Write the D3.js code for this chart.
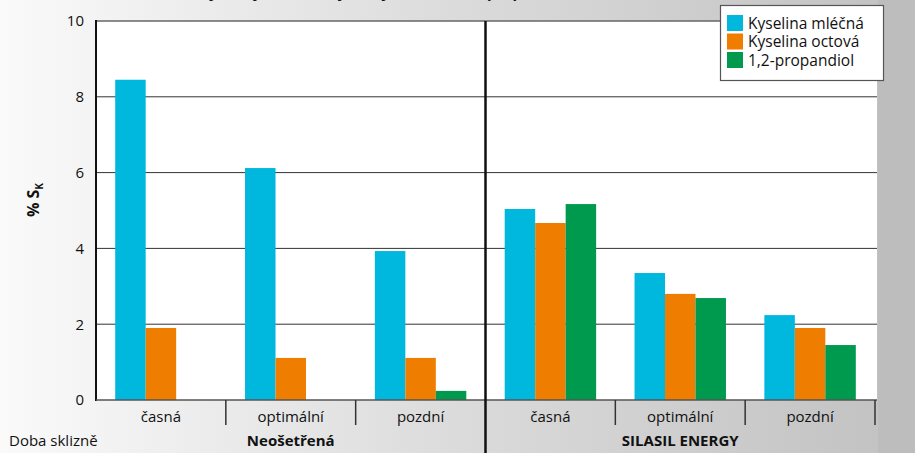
<!DOCTYPE html>
<html>
<head>
<meta charset="utf-8">
<script src="https://cdn.jsdelivr.net/npm/d3@7"></script>
<style>
  html, body { margin: 0; padding: 0; background: #ffffff; }
  svg { display: block; font-family: "Open Sans", "Noto Sans", sans-serif; }
</style>
</head>
<body>
<svg id="chart" width="915" height="453"></svg>
<script>
// ---- data ----
const treatments = ["Neošetřená", "SILASIL ENERGY"];
const harvestTimes = ["časná", "optimální", "pozdní"];
const seriesNames = ["Kyselina mléčná", "Kyselina octová", "1,2-propandiol"];
const lacticAcid = [8.45, 6.12, 3.93, 5.04, 3.35, 2.24];
const aceticAcid = [1.90, 1.11, 1.11, 4.67, 2.80, 1.90];
const propanediol = [0, 0, 0.24, 5.17, 2.69, 1.45];
const yTicks = [0, 2, 4, 6, 8, 10];
const colors = ["#00b7de", "#ef7d00", "#009a4e"];

// ---- layout ----
const W = 915, H = 453;
const plotLeft = 96, plotRight = 877, plotTop = 21, plotBottom = 400;
const axisRight = 875;

const svg = d3.select("#chart");

// background gradient
const defs = svg.append("defs");
const grad = defs.append("linearGradient").attr("id", "bg").attr("x1", "0").attr("x2", "1").attr("y1", "0").attr("y2", "0");
[[0, "#fafafa"], [0.5, "#dbdbdb"], [0.959, "#c3c3c3"], [0.96, "#bdbdbd"], [1, "#bdbdbd"]]
  .forEach(([o, c]) => grad.append("stop").attr("offset", o).attr("stop-color", c));
svg.append("rect").attr("width", W).attr("height", H).attr("fill", "url(#bg)");

// title, cut off at the top edge as in the source picture
svg.append("text").attr("x", 148).attr("y", -2)
  .attr("font-size", 15).attr("font-weight", "bold").attr("fill", "#111")
  .text("Obsah kyseliny mléčné, kyseliny octové a 1,2-propandiolu");

// plot area
svg.append("rect").attr("x", plotLeft).attr("y", plotTop)
  .attr("width", plotRight - plotLeft).attr("height", plotBottom - plotTop).attr("fill", "#ffffff");

// scales
const keys = [];
treatments.forEach(t => harvestTimes.forEach(h => keys.push(t + "|" + h)));
const x0 = d3.scaleBand().domain(keys).range([plotLeft, axisRight]).padding(0);
const x1 = d3.scaleBand().domain(seriesNames).range([0, x0.bandwidth()]).paddingInner(0).paddingOuter(0.63);
const y = d3.scaleLinear().domain([0, 10]).range([plotBottom, plotTop]);

// gridlines
svg.append("g").selectAll("line").data(yTicks.filter(v => v > 0 && v < 10)).join("line")
  .attr("x1", plotLeft).attr("x2", plotRight)
  .attr("y1", d => y(d)).attr("y2", d => y(d))
  .attr("stroke", "#333").attr("stroke-width", 1);
svg.append("line").attr("x1", plotLeft).attr("x2", plotRight)
  .attr("y1", y(10)).attr("y2", y(10)).attr("stroke", "#666").attr("stroke-width", 1.5);

// bars
const valuesBySeries = [lacticAcid, aceticAcid, propanediol];
const barData = [];
keys.forEach((k, i) => seriesNames.forEach((s, j) => barData.push({ k, s, v: valuesBySeries[j][i], c: colors[j] })));
svg.append("g").selectAll("rect").data(barData.filter(d => d.v > 0)).join("rect")
  .attr("x", d => x0(d.k) + x1(d.s))
  .attr("width", x1.bandwidth())
  .attr("y", d => y(d.v))
  .attr("height", d => y(0) - y(d.v))
  .attr("fill", d => d.c);

// y axis
const yAxis = d3.axisLeft(y).tickValues(yTicks).tickSize(0).tickPadding(12).tickFormat(d3.format("d"));
const gy = svg.append("g").attr("transform", `translate(${plotLeft},0)`).call(yAxis);
gy.select(".domain").remove();
gy.selectAll("text").attr("font-size", 15).attr("fill", "#111").attr("font-family", "\"Open Sans\", sans-serif");
svg.append("line").attr("x1", plotLeft).attr("x2", plotLeft).attr("y1", plotTop - 1).attr("y2", plotBottom + 1)
  .attr("stroke", "#111").attr("stroke-width", 2);

// x axis baseline
svg.append("line").attr("x1", plotLeft).attr("x2", plotRight).attr("y1", plotBottom).attr("y2", plotBottom)
  .attr("stroke", "#555").attr("stroke-width", 1.5);

// category separators (ticks)
const bounds = keys.map(k => x0(k) + x0.bandwidth()).filter((v, i) => (i + 1) % harvestTimes.length !== 0);
bounds.push(axisRight);
svg.append("g").selectAll("line").data(bounds).join("line")
  .attr("x1", d => d).attr("x2", d => d).attr("y1", plotBottom).attr("y2", 425)
  .attr("stroke", "#333").attr("stroke-width", 1.5);

// category labels
svg.append("g").selectAll("text").data(keys).join("text")
  .attr("x", d => x0(d) + x0.bandwidth() / 2).attr("y", 422)
  .attr("text-anchor", "middle").attr("font-size", 15).attr("fill", "#111")
  .text(d => d.split("|")[1]);

// treatment separator
const sepX = x0(treatments[1] + "|" + harvestTimes[0]);
svg.append("line").attr("x1", sepX).attr("x2", sepX).attr("y1", plotTop).attr("y2", H)
  .attr("stroke", "#111").attr("stroke-width", 2.5);

// treatment labels
treatments.forEach((t, i) => {
  const a = x0(t + "|" + harvestTimes[0]);
  const b = x0(t + "|" + harvestTimes[harvestTimes.length - 1]) + x0.bandwidth();
  svg.append("text").attr("x", (a + b) / 2).attr("y", 446)
    .attr("text-anchor", "middle").attr("font-size", 15).attr("font-weight", "bold").attr("fill", "#111")
    .text(t);
});
svg.append("text").attr("x", 9).attr("y", 446).attr("font-size", 15).attr("fill", "#111").text("Doba sklizně");

// y label
const yl = svg.append("text").attr("transform", "translate(39,200) rotate(-90)")
  .attr("text-anchor", "middle").attr("font-size", 16).attr("font-weight", "bold").attr("fill", "#111");
yl.append("tspan").text("% S");
yl.append("tspan").attr("font-size", 10).attr("dy", 4).text("K");

// legend
const lg = svg.append("g").attr("transform", "translate(720,5)");
lg.append("rect").attr("x", 0.5).attr("y", 0.5).attr("width", 163).attr("height", 75)
  .attr("fill", "#ffffff").attr("stroke", "#555").attr("stroke-width", 1.2);
seriesNames.forEach((s, i) => {
  lg.append("rect").attr("x", 7).attr("y", 10 + i * 18.5).attr("width", 16).attr("height", 16).attr("fill", colors[i]);
  lg.append("text").attr("x", 28).attr("y", 23.5 + i * 18.5).attr("font-size", 15.5).attr("fill", "#111").text(s);
});
</script>
</body>
</html>
